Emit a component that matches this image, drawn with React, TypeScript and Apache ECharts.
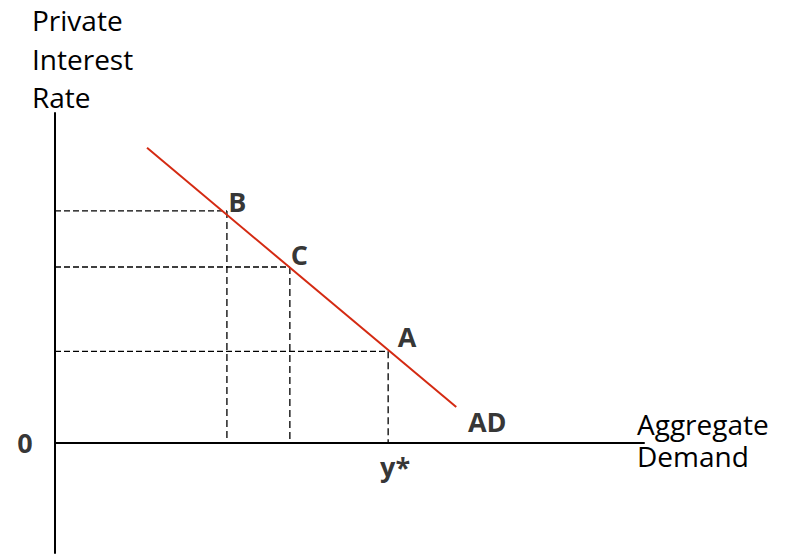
import React, { useEffect, useRef } from "react";
import * as echarts from "echarts";

// Axis ranges (data units)
const xRange = [0, 16];
const yRange = [-3, 9];

// AD curve end points
const adCurveX = [2.5, 10.9];
const adCurveY = [8.05, 0.98];
const adLabel = "AD";

// Marked points on the AD curve
const pointNames = ["B", "C", "A"];
const pointX = [4.67, 6.38, 9.05];
const pointY = [6.33, 4.8, 2.5];

const equilibriumLabel = "y*";
const originLabel = "0";
const yTitle = "Private\nInterest\nRate";
const xTitle = "Aggregate\nDemand";

const FONT = "'Open Sans', 'Noto Sans', sans-serif";
const RED = "#d42a12";

export default function App() {
  const ref = useRef<HTMLDivElement>(null);

  useEffect(() => {
    if (!ref.current) return;
    const chart = echarts.init(ref.current, undefined, { renderer: "svg" });

    const dashSeries: any[] = [];
    pointNames.forEach((n, i) => {
      dashSeries.push({
        type: "line",
        name: n + "-h",
        data: [
          [xRange[0], pointY[i]],
          [pointX[i], pointY[i]],
        ],
        symbol: "none",
        silent: true,
        lineStyle: { color: "#000", width: 1.3, type: [6, 3] },
        z: 1,
      });
      dashSeries.push({
        type: "line",
        name: n + "-v",
        data: [
          [pointX[i], pointY[i]],
          [pointX[i], 0],
        ],
        symbol: "none",
        silent: true,
        lineStyle: { color: "#000", width: 1.3, type: [7, 4] },
        z: 1,
      });
    });

    const labelOffsets = [
      [10.5, -9],
      [9.5, -13],
      [19, -15],
    ];

    const boldLabel = (offset: number[]) => ({
      show: true,
      position: "inside",
      offset,
      formatter: "{b}",
      color: "#000",
      fontFamily: FONT,
      fontWeight: "bold",
      fontSize: 27,
      align: "center",
      verticalAlign: "middle",
    });

    const labelData: any[] = pointNames.map((n, i) => ({
      name: n,
      value: [pointX[i], pointY[i]],
      label: boldLabel(labelOffsets[i]),
    }));
    labelData.push({
      name: adLabel,
      value: [adCurveX[1], adCurveY[1]],
      label: boldLabel([31, 14]),
    });
    labelData.push({
      name: equilibriumLabel,
      value: [pointX[2], 0],
      label: boldLabel([7, 23]),
    });
    labelData.push({
      name: originLabel,
      value: [xRange[0], 0],
      label: boldLabel([-30, -1]),
    });

    chart.setOption({
      animation: false,
      backgroundColor: "#fff",
      grid: { left: 55, right: 144, top: 113, bottom: 1, containLabel: false },
      xAxis: {
        type: "value",
        min: xRange[0],
        max: xRange[1],
        axisLine: { show: true, onZero: true, lineStyle: { color: "#000", width: 2 } },
        axisTick: { show: false },
        axisLabel: { show: false },
        splitLine: { show: false },
      },
      yAxis: {
        type: "value",
        min: yRange[0],
        max: yRange[1],
        axisLine: { show: true, onZero: true, lineStyle: { color: "#000", width: 2 } },
        axisTick: { show: false },
        axisLabel: { show: false },
        splitLine: { show: false },
      },
      series: [
        ...dashSeries,
        {
          type: "line",
          name: adLabel,
          data: adCurveX.map((x, i) => [x, adCurveY[i]]),
          symbol: "none",
          silent: true,
          lineStyle: { color: RED, width: 2 },
          z: 3,
        },
        {
          type: "scatter",
          name: "labels",
          symbolSize: 0,
          silent: true,
          data: labelData,
          z: 5,
        },
      ],
      graphic: [
        {
          type: "text",
          left: 32,
          top: 1,
          style: {
            text: yTitle,
            font: `28px ${FONT}`,
            fill: "#000",
            lineHeight: 38.5,
          },
        },
        {
          type: "text",
          left: 637,
          top: 408,
          style: {
            text: xTitle,
            font: `28px ${FONT}`,
            fill: "#000",
            lineHeight: 32,
          },
        },
      ],
    });

    return () => chart.dispose();
  }, []);

  return (
    <div
      ref={ref}
      style={{ position: "absolute", left: 0, top: 0, width: 788, height: 554 }}
    />
  );
}
